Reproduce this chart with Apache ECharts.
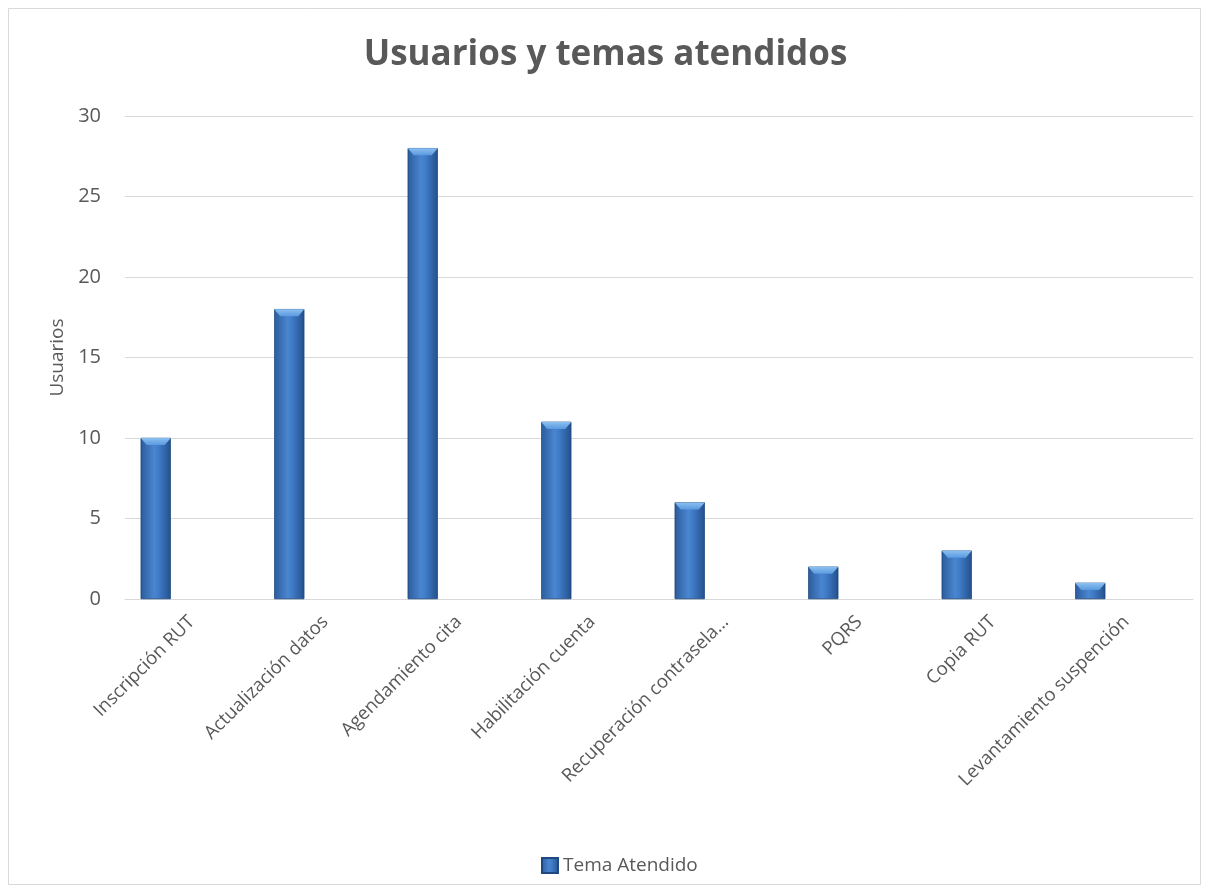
<!DOCTYPE html>
<html>
<head>
<meta charset="utf-8">
<script src="https://cdn.jsdelivr.net/npm/echarts@6/dist/echarts.min.js"></script>
<style>
  html, body { margin: 0; padding: 0; background: #fff; }
  #main { width: 1211px; height: 894px; }
</style>
</head>
<body>
<div id="main"></div>
<script>
// datos del gráfico
const categorias = ['Inscripción RUT', 'Actualización datos', 'Agendamiento cita', 'Habilitación cuenta',
  'Recuperación contrasela…', 'PQRS', 'Copia RUT', 'Levantamiento suspención'];
const usuarios = [10, 18, 28, 11, 6, 2, 3, 1];
const vacio = [null, null, null, null, null, null, null, null];

const gris = '#595959';
const barColor = new echarts.graphic.LinearGradient(0, 0, 1, 0, [
  { offset: 0, color: '#2c5c9c' },
  { offset: 0.45, color: '#4a86d0' },
  { offset: 0.6, color: '#3f7bc6' },
  { offset: 1, color: '#24508c' }
]);
const capColor = new echarts.graphic.LinearGradient(0, 0, 0, 1, [
  { offset: 0, color: '#8cc0f0' },
  { offset: 1, color: '#5a9ae0' }
]);

var myChart = echarts.init(document.getElementById('main'));

var option = {
  backgroundColor: '#fff',
  textStyle: { fontFamily: 'Open Sans' },
  graphic: [{
    type: 'rect',
    shape: { x: 8.5, y: 8.5, width: 1192, height: 876 },
    style: { fill: 'none', stroke: '#d9d9d9', lineWidth: 1 },
    silent: true
  }],
  title: {
    text: 'Usuarios y temas atendidos',
    left: 'center',
    top: 33,
    textStyle: { fontSize: 35, fontWeight: 'bold', color: gris, fontFamily: 'Open Sans' }
  },
  legend: {
    data: ['Tema Atendido'],
    top: 851,
    left: 536,
    itemWidth: 16,
    itemHeight: 15,
    itemGap: 4,
    textStyle: { fontSize: 19, color: gris },
    icon: 'rect'
  },
  grid: { left: 125, right: 18, top: 116, bottom: 295 },
  xAxis: {
    type: 'category',
    data: categorias,
    axisLine: { lineStyle: { color: '#d9d9d9' } },
    axisTick: { show: false },
    axisLabel: { rotate: 45, fontSize: 18.5, color: gris, interval: 0, margin: 20 }
  },
  yAxis: {
    type: 'value',
    min: 0,
    max: 30,
    interval: 5,
    name: 'Usuarios',
    nameLocation: 'middle',
    nameGap: 58,
    nameRotate: 90,
    nameTextStyle: { fontSize: 19, color: gris },
    axisLine: { show: false },
    axisTick: { show: false },
    axisLabel: { fontSize: 20, color: gris, margin: 24 },
    splitLine: { lineStyle: { color: '#d9d9d9', width: 1 } }
  },
  series: [
    {
      name: 'Tema Atendido',
      type: 'bar',
      data: usuarios,
      barWidth: 30,
      barGap: '140%',
      itemStyle: { color: barColor, borderColor: '#1f4a80', borderWidth: 0.5 }
    },
    {
      name: 'vacio',
      type: 'bar',
      data: vacio,
      barWidth: 30
    },
    {
      name: 'tapa',
      type: 'pictorialBar',
      data: usuarios,
      symbol: 'path://M0,0 L30,0 L24,7 L6,7 Z',
      symbolSize: [30, 7],
      symbolPosition: 'end',
      symbolOffset: [-36, 0],
      itemStyle: { color: capColor },
      z: 3,
      silent: true
    }
  ]
};

myChart.setOption(option);
</script>
</body>
</html>
